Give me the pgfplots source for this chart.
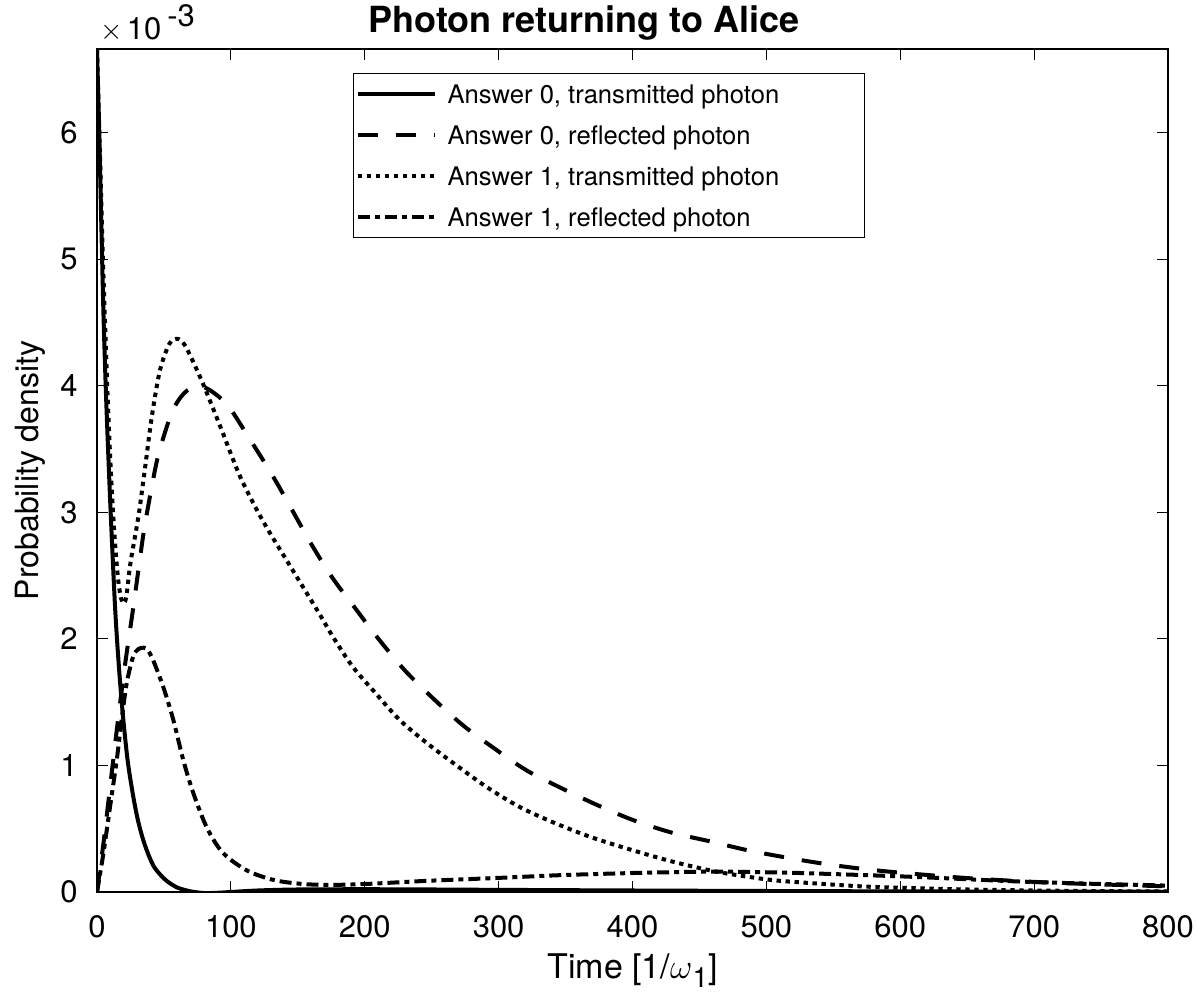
\documentclass[border=0pt]{standalone}
\usepackage{pgfplots}
\pgfplotsset{compat=1.18}
\usepackage{pgfplotstable}
\usepackage{fontspec}
\setmainfont{TeX Gyre Heros}

% values in units of 10^-3
\pgfplotstableread{
t v
0 6.66
1 6.25
2 5.85
3.5 5.15
5 4.5
7 3.85
10 3.05
13.5 2.25
16.5 1.76
19.5 1.38
23 1.03
27 0.76
30.5 0.57
34 0.43
37.5 0.32
42 0.21
47 0.14
52 0.088
60 0.035
70 0.005
80 -0.008
90 -0.006
100 0.0
120 0.012
150 0.02
200 0.022
250 0.02
300 0.017
400 0.012
500 0.008
600 0.005
700 0.003
800 0.002
}\ansAt

\pgfplotstableread{
t v
0 0
5 0.4
10 0.85
15 1.3
20 1.72
23 1.95
27 2.24
31 2.55
35 2.85
40 3.15
46 3.46
56 3.79
65 3.94
75 4.0
85 3.96
98 3.84
114 3.58
130 3.31
143 3.07
160 2.75
176 2.48
193 2.24
211 1.99
230 1.75
251 1.53
273 1.32
296 1.14
321 0.96
347 0.82
373 0.69
400 0.57
429 0.47
458 0.40
486 0.33
516 0.27
545 0.22
574 0.18
603 0.15
650 0.11
700 0.08
750 0.06
800 0.045
}\ansAr

\pgfplotstableread{
t v
0 6.66
2 5.9
4 5.15
6 4.5
8 3.9
10 3.4
12 3.0
14 2.68
16 2.45
18 2.32
20 2.28
22 2.34
25 2.6
31 2.97
36 3.36
41 3.76
47 4.12
54 4.33
60 4.37
65 4.33
70 4.23
79 4.02
92 3.68
107 3.28
124 2.93
144 2.58
166 2.2
176 2.02
191 1.78
209 1.56
226 1.36
246 1.18
266 1.02
291 0.83
316 0.67
343 0.54
370 0.43
400 0.33
430 0.24
463 0.16
500 0.10
523 0.078
570 0.045
600 0.034
650 0.02
700 0.012
750 0.007
800 0.004
}\ansBt

\pgfplotstableread{
t v
0 0
4.7 0.3
9.7 0.67
14.7 1.04
18.4 1.36
22.2 1.65
27 1.86
31 1.92
35 1.93
38 1.91
42 1.83
49.5 1.62
57 1.36
64.5 1.04
72 0.78
82 0.51
94 0.31
112 0.17
132 0.095
152 0.065
172 0.056
200 0.063
246 0.088
301 0.112
346 0.133
400 0.15
450 0.16
475 0.16
525 0.15
609 0.12
684 0.085
740 0.066
784 0.055
800 0.05
}\ansBr

\begin{document}
\begin{tikzpicture}
\begin{axis}[
  name=ax,
  scale only axis,
  width=535.5pt, height=421.5pt,
  xmin=0, xmax=800, ymin=0, ymax=6.66,
  xtick={0,100,...,800}, ytick={0,1,...,6},
  tick align=inside, major tick length=5.3pt,
  axis line style={line width=0.6pt},
  every tick/.style={line width=0.6pt, black},
  /pgf/number format/assume math mode=true,
  ticklabel style={font=\fontsize{15.5}{18}\selectfont},
  xticklabel style={anchor=base, inner sep=0pt, yshift=-22.5pt},
  yticklabel style={anchor=east, inner sep=0pt, xshift=-9.5pt},
  title={Photon returning to Alice},
  every axis title shift=0pt,
  title style={at={(axis description cs:0.4547,1)}, anchor=base, yshift=8pt, inner sep=0pt, font=\fontsize{18}{20}\selectfont\bfseries},
  xlabel={Time [1/$\omega$\raisebox{-0.55ex}{\fontsize{14}{16}\selectfont 1}]},
  xlabel style={at={(axis description cs:0.5,0)}, anchor=base, inner sep=0pt, yshift=-43pt, font=\fontsize{17}{20}\selectfont},
  ylabel={Probability density},
  ylabel style={at={(axis description cs:-0.0542,0.5)}, anchor=base, inner sep=0pt, font=\fontsize{16}{19}\selectfont},
  legend cell align=left,
  legend style={at={(axis description cs:0.239,0.9715)}, anchor=north west, draw=black, line width=0.6pt,
    inner xsep=1pt, inner ysep=0pt, row sep=0pt,
    font=\fontsize{12.8}{15}\selectfont,
    nodes={inner sep=0pt, text height=14.85pt, text depth=5.65pt}},
  legend image code/.code={\draw[#1] (0pt,0pt) -- (38.5pt,0pt);},
]
\addplot[black, line width=2pt, smooth] table[x=t,y=v] {\ansAt};
\addlegendentry{\hspace*{5.5pt}\makebox[207.5pt][l]{Answer 0, transmitted photon}}
\addplot[black, line width=2pt, smooth, dash pattern=on 10pt off 9pt] table[x=t,y=v] {\ansAr};
\addlegendentry{\hspace*{5.5pt}\makebox[207.5pt][l]{Answer 0, reflected photon}}
\addplot[black, line width=2pt, smooth, dash pattern=on 2.2pt off 2.3pt] table[x=t,y=v] {\ansBt};
\addlegendentry{\hspace*{5.5pt}\makebox[207.5pt][l]{Answer 1, transmitted photon}}
\addplot[black, line width=2pt, smooth, dash pattern=on 6pt off 2.5pt on 2.5pt off 2.5pt] table[x=t,y=v] {\ansBr};
\addlegendentry{\hspace*{5.5pt}\makebox[207.5pt][l]{Answer 1, reflected photon}}
\end{axis}
\node[anchor=base west, inner sep=0pt, font=\fontsize{15.5}{18}\selectfont] at ([xshift=1.5pt,yshift=4.5pt]ax.north west) {$\times$\hspace{2pt}10\hspace{3pt}\raisebox{0.85ex}{-3}};
\pgfresetboundingbox
\path[use as bounding box] ([xshift=-48.5pt,yshift=-55pt]ax.south west) rectangle ([xshift=15pt,yshift=24.5pt]ax.north east);
\end{tikzpicture}
\end{document}
